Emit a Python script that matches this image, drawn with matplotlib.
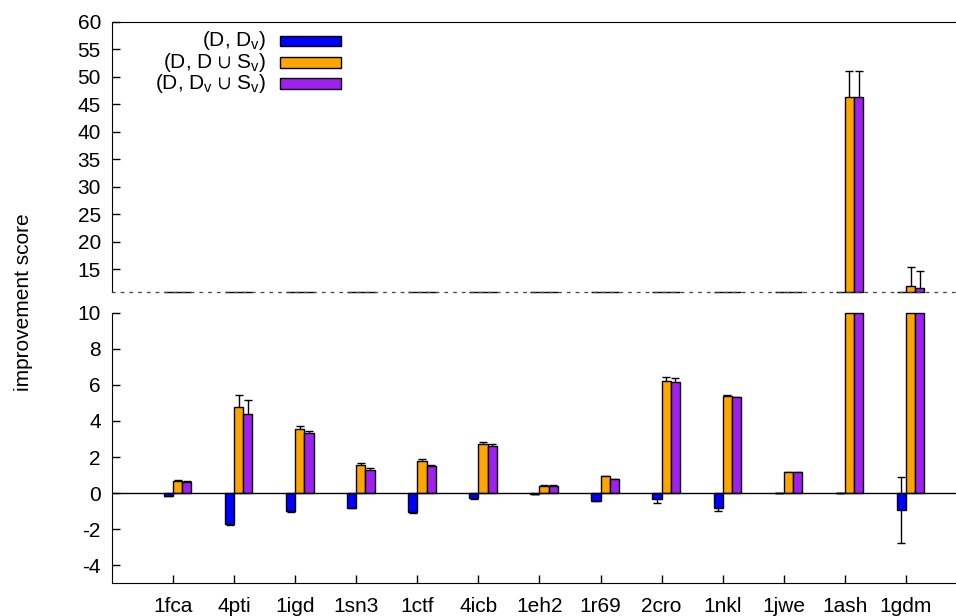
import matplotlib

matplotlib.use("Agg")
import matplotlib.pyplot as plt
import numpy as np
from matplotlib.patches import Rectangle

plt.rcParams["font.family"] = ["Liberation Sans", "DejaVu Sans"]
plt.rcParams["mathtext.fontset"] = "custom"
plt.rcParams["mathtext.rm"] = "Liberation Sans"
plt.rcParams["mathtext.it"] = "Liberation Sans:italic"
plt.rcParams["mathtext.fallback"] = "stixsans"
plt.rcParams["axes.unicode_minus"] = False

proteins = ["1fca", "4pti", "1igd", "1sn3", "1ctf", "4icb", "1eh2",
            "1r69", "2cro", "1nkl", "1jwe", "1ash", "1gdm"]

d_dv = [-0.15, -1.72, -0.98, -0.81, -1.07, -0.28, -0.05,
        -0.43, -0.32, -0.83, -0.02, -0.02, -0.93]
d_dv_err = [0.02, 0.05, 0.04, 0.03, 0.03, 0.03, 0.01,
            0.03, 0.22, 0.14, 0.0, 0.0, 1.83]

d_dsv = [0.68, 4.80, 3.57, 1.57, 1.80, 2.72, 0.41,
         0.94, 6.20, 5.39, 1.15, 46.25, 11.95]
d_dsv_err = [0.04, 0.62, 0.13, 0.12, 0.10, 0.10, 0.02,
             0.03, 0.25, 0.04, 0.01, 4.8, 3.45]

dv_sv = [0.63, 4.39, 3.31, 1.28, 1.48, 2.63, 0.41,
         0.76, 6.15, 5.30, 1.15, 46.25, 11.50]
dv_sv_err = [0.03, 0.76, 0.12, 0.11, 0.10, 0.10, 0.02,
             0.03, 0.25, 0.03, 0.01, 4.8, 3.2]

labels = [r"(D, D$_\mathrm{v}$)",
          r"(D, D $\cup$ S$_\mathrm{v}$)",
          r"(D, D$_\mathrm{v}$ $\cup$ S$_\mathrm{v}$)"]
colors = ["#0000ff", "#ffa500", "#a020f0"]

W, H = 956, 616
FS = 15
BAR_W = 0.15
TOP_LIM = (10.87, 60)
BOT_LIM = (-5, 10)


def fx(px):
    return px / W


def fy(py):
    return 1 - py / H


def draw_bars(ax, lo, hi):
    x = np.arange(len(proteins))
    series = [(d_dv, d_dv_err), (d_dsv, d_dsv_err), (dv_sv, dv_sv_err)]
    for i, (vals, errs) in enumerate(series):
        v = np.asarray(vals, dtype=float)
        left = x + (i - 1) * BAR_W
        # gnuplot-style clipping: bars are cut at the panel borders
        base = np.clip(0.0, lo, hi)
        top = np.clip(v, lo, hi)
        ax.bar(left, top - base, width=BAR_W, bottom=base, align="edge",
               color=colors[i], edgecolor="black", linewidth=1.0,
               zorder=3, clip_on=False)
        ax.errorbar(left + BAR_W / 2, v, yerr=errs, fmt="none",
                    ecolor="black", elinewidth=1.0, capsize=3.1,
                    capthick=1.0, zorder=2)


fig = plt.figure(figsize=(W / 100, H / 100), dpi=100)
ax_top = fig.add_axes([fx(112), fy(291.7), 1 - fx(112), fy(21.7) - fy(291.7)])
ax_bot = fig.add_axes([fx(112), fy(583.3), 1 - fx(112), fy(312.7) - fy(583.3)])

xlim = (-1.0, 12.82)

draw_bars(ax_top, *TOP_LIM)
ax_top.set_xlim(*xlim)
ax_top.set_ylim(*TOP_LIM)
ax_top.set_yticks(np.arange(15, 61, 5))
ax_top.set_xticks([])
ax_top.spines["right"].set_visible(False)
ax_top.spines["bottom"].set_linestyle((0, (2, 5)))
ax_top.spines["bottom"].set_linewidth(0.9)
ax_top.spines["bottom"].set_color("#444444")
ax_top.tick_params(axis="y", direction="in", length=6, width=1,
                   labelsize=FS, pad=8)

draw_bars(ax_bot, *BOT_LIM)
ax_bot.axhline(0, color="black", linewidth=1.0, zorder=4)
ax_bot.set_xlim(*xlim)
ax_bot.set_ylim(*BOT_LIM)
ax_bot.set_yticks(np.arange(-4, 11, 2))
ax_bot.set_xticks(np.arange(len(proteins)))
ax_bot.set_xticklabels(proteins)
ax_bot.spines["right"].set_visible(False)
ax_bot.spines["top"].set_visible(False)
ax_bot.tick_params(axis="y", direction="in", length=6, width=1,
                   labelsize=FS, pad=8)
ax_bot.tick_params(axis="x", direction="in", length=6, width=1,
                   labelsize=FS, pad=10)

for ax in (ax_top, ax_bot):
    for s in ax.spines.values():
        s.set_zorder(5)

fig.text(fx(24), fy(302), "improvement score", rotation=90,
         ha="center", va="center", fontsize=FS)

# legend, text right-aligned with the swatch after it
for i, (label, color) in enumerate(zip(labels, colors)):
    yc = [41, 62.5, 83.5][i]
    fig.text(fx(266), fy(yc), label, ha="right", va="center", fontsize=FS)
    fig.add_artist(Rectangle((fx(279.5), fy(yc + 5)), fx(61), 10 / H,
                             transform=fig.transFigure, facecolor=color,
                             edgecolor="black", linewidth=1.0))

fig.savefig("out.png", dpi=100)
plt.close(fig)
